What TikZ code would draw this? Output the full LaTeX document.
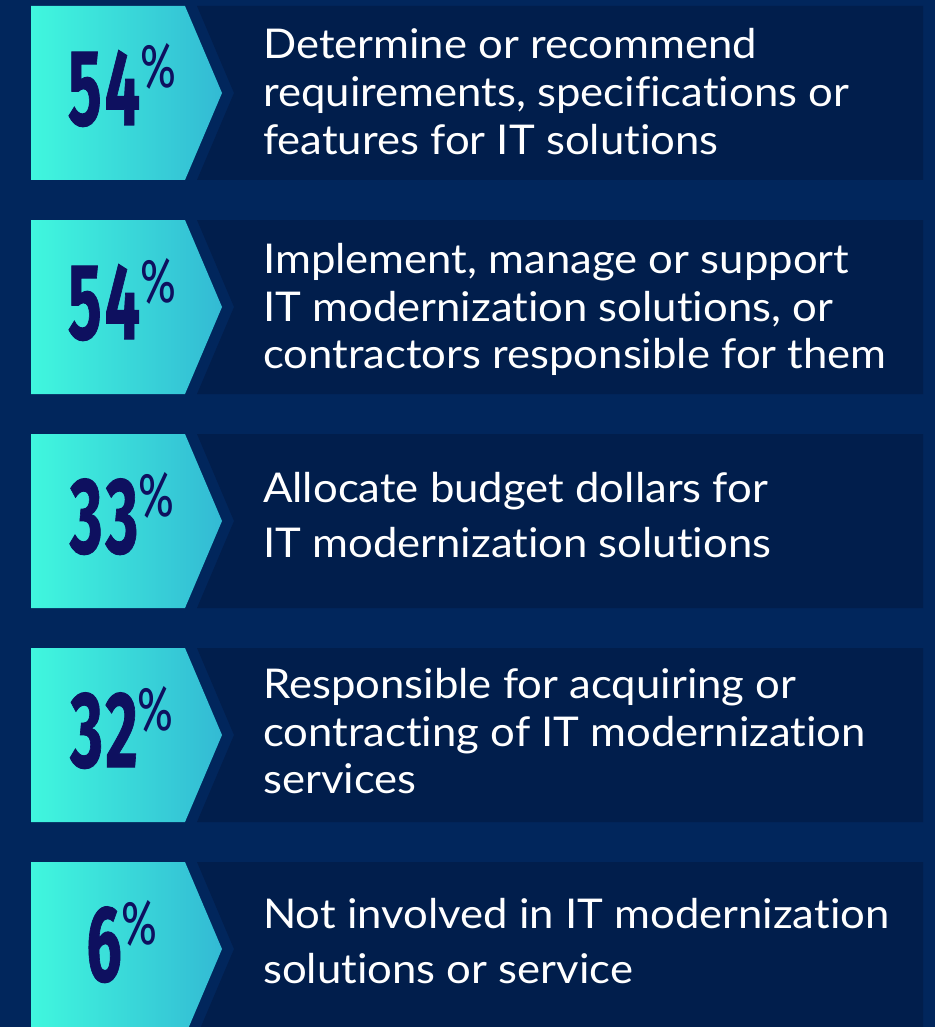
\documentclass[tikz,border=0pt]{standalone}
\usepackage{fontspec}
\setmainfont{Lato}[Ligatures={NoCommon}]
\newfontfamily\numfont{Fira Sans}[BoldFeatures={FakeBold=1.0}, LetterSpace=5]
\definecolor{bgc}{HTML}{01265C}
\definecolor{boxc}{HTML}{011E4C}
\definecolor{cyL}{HTML}{40F7DE}
\definecolor{cyR}{HTML}{33BAD4}
\definecolor{numc}{HTML}{0E105F}
\newcommand{\bignum}[1]{\scalebox{0.58}[1]{\fontsize{108}{108}\selectfont\bfseries #1}}
\newcommand{\pct}{\raisebox{37pt}{\scalebox{0.7}[1]{\fontsize{62}{62}\selectfont\%}}}
\newcommand{\widetxt}[1]{\scalebox{1.065}[1]{#1}}
\tikzset{
  numlbl/.style={inner sep=0pt, anchor=base, text=numc, font=\numfont},
  desc/.style={inner sep=0pt, anchor=base west, text=white, font=\fontsize{41}{41}\selectfont}
}
\begin{document}
\begin{tikzpicture}[x=1pt,y=-1pt]
\useasboundingbox (0,0) rectangle (935,1027);
\fill[bgc] (0,0) rectangle (935,1027);
\begin{scope}
\clip (0,0) rectangle (935,1027);
\foreach \o/\n/\num in {0/a/54, 214/b/54, 428/c/33, 642/d/32, 856/e/6} {
  \shade[left color=cyL, right color=cyR] (31,6+\o) -- (185,6+\o) -- (222,93+\o) -- (185,180+\o) -- (31,180+\o) -- cycle;
  \fill[boxc] (197,6+\o) -- (923,6+\o) -- (923,180+\o) -- (197,180+\o) -- (234,93+\o) -- cycle;
  \node[numlbl] (n\n) at (122,125+\o) {\bignum{\num}\pct};
}
\end{scope}
\node[desc] (a1) at (263,59) {\widetxt{Determine or recommend}};
\node[desc] (a2) at (263,107) {\widetxt{requirements, specifications or}};
\node[desc] (a3) at (263,155) {\widetxt{features for IT solutions}};
\node[desc] (b1) at (263,273) {\widetxt{Implement, manage or support}};
\node[desc] (b2) at (263,321) {\widetxt{IT modernization solutions, or}};
\node[desc] (b3) at (263,368) {\widetxt{contractors responsible for them}};
\node[desc] (c1) at (263,502) {\widetxt{Allocate budget dollars for}};
\node[desc] (c2) at (263,557) {\widetxt{IT modernization solutions}};
\node[desc] (d1) at (263,698) {\widetxt{Responsible for acquiring or}};
\node[desc] (d2) at (263,746) {\widetxt{contracting of IT modernization}};
\node[desc] (d3) at (263,793) {\widetxt{services}};
\node[desc] (e1) at (263,928) {\widetxt{Not involved in IT modernization}};
\node[desc] (e2) at (263,983) {\widetxt{solutions or service}};
\end{tikzpicture}
\end{document}
